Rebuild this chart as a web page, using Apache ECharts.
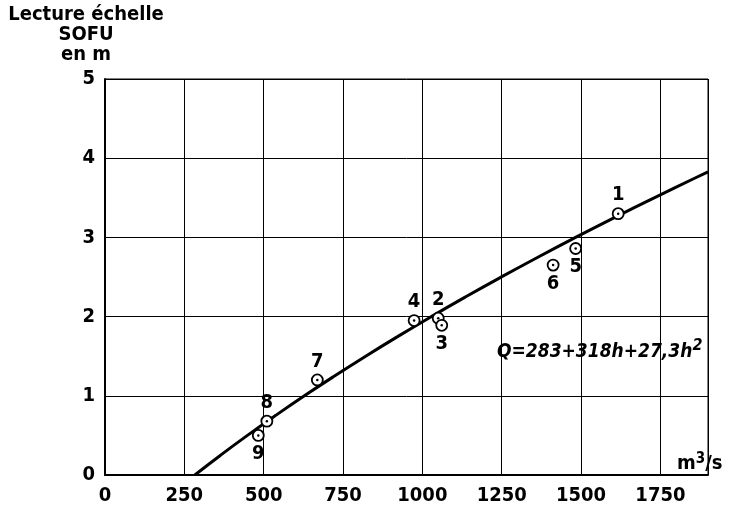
<!DOCTYPE html>
<html>
<head>
<meta charset="utf-8">
<script src="https://cdn.jsdelivr.net/npm/echarts@6/dist/echarts.min.js"></script>
<style>
  html, body { margin: 0; padding: 0; background: #fff; }
  #chart { width: 732px; height: 512px; }
</style>
</head>
<body>
<div id="chart"></div>
<script>
// Gauge readings at the SOFU staff (h, in m) against measured discharge (Q, in m3/s)
const pointIds = ['1', '2', '3', '4', '5', '6', '7', '8', '9'];
const pointQ = [1617, 1050, 1061, 974, 1483, 1412, 669, 510, 483];
const pointH = [3.30, 1.98, 1.89, 1.95, 2.86, 2.65, 1.20, 0.68, 0.50];
const labelSide = ['top', 'top', 'bottom', 'top', 'bottom', 'bottom', 'top', 'top', 'bottom'];

// Rating curve Q = 283 + 318h + 27,3h², tabulated
const curveH = [0, 0.25, 0.5, 0.75, 1, 1.25, 1.5, 1.75, 2, 2.25, 2.5, 2.75, 3, 3.25, 3.5, 3.75, 3.828];
const curveQ = [283, 364.2, 448.8, 536.9, 628.3, 723.2, 821.4, 923.1, 1028.2, 1136.7, 1248.6, 1363.9, 1482.7, 1604.9, 1730.4, 1859.4, 1900];

const xTicks = [0, 250, 500, 750, 1000, 1250, 1500, 1750];
const yTicks = [0, 1, 2, 3, 4, 5];

const FONT = '"DejaVu Sans Condensed", "DejaVu Sans", sans-serif';

const chart = echarts.init(document.getElementById('chart'), null, { renderer: 'canvas' });

const pointData = pointIds.map((id, i) => ({
  name: id,
  value: [pointQ[i], pointH[i]],
  label: { position: labelSide[i] }
}));

chart.setOption({
  backgroundColor: '#fff',
  animation: false,
  grid: {
    left: 105, top: 79, width: 603, height: 396,
    show: true, borderColor: '#000', borderWidth: 1, backgroundColor: 'transparent'
  },
  xAxis: {
    type: 'value', min: 0, max: 1900, interval: 250,
    axisLine: { show: true, lineStyle: { color: '#000', width: 2 } },
    axisTick: { show: false },
    splitLine: { show: true, lineStyle: { color: '#000', width: 1 } },
    axisLabel: {
      showMaxLabel: false, margin: 11, color: '#000',
      fontFamily: FONT, fontWeight: 'bold', fontSize: 20,
      formatter: v => xTicks.includes(v) ? String(v) : ''
    }
  },
  yAxis: {
    type: 'value', min: 0, max: 5, interval: 1,
    axisLine: { show: true, lineStyle: { color: '#000', width: 2 } },
    axisTick: { show: false },
    splitLine: { show: true, lineStyle: { color: '#000', width: 1 } },
    axisLabel: {
      margin: 10, color: '#000',
      fontFamily: FONT, fontWeight: 'bold', fontSize: 20,
      formatter: v => yTicks.includes(v) ? String(v) : ''
    }
  },
  series: [
    {
      type: 'line',
      data: curveQ.map((q, i) => [q, curveH[i]]),
      showSymbol: false,
      smooth: true,
      lineStyle: { color: '#000', width: 3 },
      z: 3
    },
    {
      type: 'scatter',
      data: pointData,
      symbol: 'circle',
      symbolSize: 11,
      itemStyle: { color: '#fff', borderColor: '#000', borderWidth: 1.8, opacity: 1 },
      label: {
        show: true, formatter: p => p.name, distance: 2,
        color: '#000', fontFamily: FONT, fontWeight: 'bold', fontSize: 20
      },
      z: 4
    },
    {
      type: 'scatter',
      data: pointQ.map((q, i) => [q, pointH[i]]),
      symbol: 'circle',
      symbolSize: 2.5,
      itemStyle: { color: '#000', opacity: 1 },
      silent: true,
      z: 5
    }
  ],
  graphic: [
    {
      type: 'text', x: 86, y: 5,
      style: {
        text: 'Lecture échelle\nSOFU\nen m',
        align: 'center', verticalAlign: 'top',
        font: 'bold 20px ' + FONT, lineHeight: 20, fill: '#000'
      }
    },
    {
      type: 'text', x: 497, y: 352,
      style: {
        text: '{t|Q=283+318h+27,3h}{s|2}',
        verticalAlign: 'middle',
        rich: {
          t: { fontFamily: '"Liberation Sans Narrow", ' + FONT, fontStyle: 'italic', fontWeight: 'bold', fontSize: 19, color: '#000' },
          s: { fontFamily: '"Liberation Sans Narrow", ' + FONT, fontStyle: 'italic', fontWeight: 'bold', fontSize: 16, color: '#000', padding: [0, 0, 12, 0] }
        }
      }
    },
    {
      type: 'text', x: 677, y: 464,
      style: {
        text: '{t|m}{s|3}{t|/s}',
        verticalAlign: 'middle',
        rich: {
          t: { fontFamily: FONT, fontWeight: 'bold', fontSize: 20, color: '#000' },
          s: { fontFamily: FONT, fontWeight: 'bold', fontSize: 15, color: '#000', padding: [0, 0, 10, 0] }
        }
      }
    }
  ]
});
</script>
</body>
</html>
